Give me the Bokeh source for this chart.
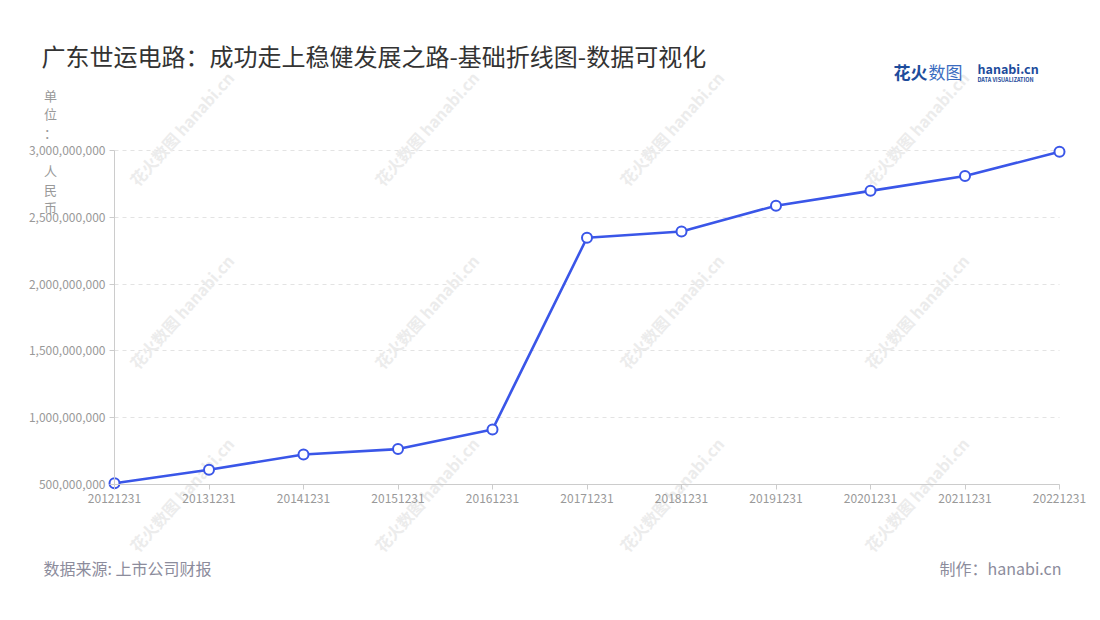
from bokeh.plotting import figure
from bokeh.models import Range1d, FixedTicker, NumeralTickFormatter, Label
from bokeh.embed import file_html
from bokeh.resources import INLINE

# ---- data ----
dates = ["20121231", "20131231", "20141231", "20151231", "20161231", "20171231",
         "20181231", "20191231", "20201231", "20211231", "20221231"]
revenue = [510e6, 610e6, 725e6, 765e6, 912e6, 2347e6,
           2394e6, 2587e6, 2698e6, 2809e6, 2990e6]
y_ticks = [500e6, 1000e6, 1500e6, 2000e6, 2500e6, 3000e6]

title_text = "广东世运电路：成功走上稳健发展之路-基础折线图-数据可视化"
unit_chars = ["单", "位", "：", "人", "民", "币"]
source_text = "数据来源: 上市公司财报"
maker_text = "制作：hanabi.cn"
watermark_text = "花火数图 hanabi.cn"

FONT = "Noto Sans CJK SC"
LINE_COLOR = "#3a56e8"

# ---- layout (pixels in the canvas) ----
W, H = 1092, 612
PL, PR, PT, PB = 114, 1059, 150, 484   # plot area edges
n = len(dates)
y0, y1 = y_ticks[0], y_ticks[-1]
xpx = (n - 1) / (PR - PL)
ypx = (y1 - y0) / (PB - PT)
x_range = Range1d(0 - PL * xpx, (n - 1) + (W - PR) * xpx)
y_range = Range1d(y0 - (H - PB) * ypx, y1 + PT * ypx)

p = figure(width=W, height=H, output_backend="svg", toolbar_location=None,
           x_range=x_range, y_range=y_range, min_border=0)
p.min_border_left = p.min_border_right = p.min_border_top = p.min_border_bottom = 0
p.outline_line_color = None
p.background_fill_color = "white"
p.border_fill_color = "white"


def lab(text, xi, yi, size, color, align="left", style="normal", angle=0, level="annotation"):
    p.add_layout(Label(x=xi, y=H - yi, x_units="screen", y_units="screen",
                       text=text, text_font=FONT, text_font_size=size,
                       text_color=color, text_align=align, text_baseline="middle",
                       text_font_style=style, angle=angle, level=level))


# faint watermarks (behind everything)
for wx in [181, 426, 671, 916]:
    for wy in [128, 311, 494]:
        lab(watermark_text, wx, wy, "16px", "#ececec", align="center",
            style="bold", angle=0.84, level="underlay")

x = list(range(n))
p.line(x, revenue, line_color=LINE_COLOR, line_width=2.6)
p.scatter(x, revenue, size=10, fill_color="white", line_color=LINE_COLOR, line_width=2)

# axes placed inside the frame
xa = p.xaxis[0]
xa.fixed_location = y0
xa.bounds = (0, n - 1)
xa.ticker = FixedTicker(ticks=x)
xa.major_label_overrides = {i: d for i, d in enumerate(dates)}
xa.axis_line_color = "#cccccc"
xa.major_tick_line_color = "#cccccc"
xa.major_tick_in = 0
xa.major_tick_out = 5
xa.minor_tick_line_color = None
xa.major_label_text_color = "#999999"
xa.major_label_text_font = FONT
xa.major_label_text_font_size = "12px"
xa.major_label_standoff = 4

ya = p.yaxis[0]
ya.fixed_location = 0
ya.bounds = (y0, y1)
ya.ticker = FixedTicker(ticks=y_ticks)
ya.formatter = NumeralTickFormatter(format="0,0")
ya.axis_line_color = "#cccccc"
ya.major_tick_line_color = "#cccccc"
ya.major_tick_in = 0
ya.major_tick_out = 5
ya.minor_tick_line_color = None
ya.major_label_text_color = "#999999"
ya.major_label_text_font = FONT
ya.major_label_text_font_size = "12px"
ya.major_label_standoff = 4

p.xgrid.grid_line_color = None
if "cross_bounds" in p.ygrid.properties():
    p.ygrid.cross_bounds = (0, n - 1)
    p.ygrid.grid_line_color = "#e3e3e3"
    p.ygrid.grid_line_dash = "4 4"
    p.ygrid.grid_line_width = 1
else:
    p.ygrid.grid_line_color = None
    p.segment(x0=[0] * len(y_ticks), x1=[n - 1] * len(y_ticks), y0=y_ticks, y1=y_ticks,
              line_color="#e3e3e3", line_dash="4 4", line_width=1, level="underlay")

lab(title_text, 41, 55, "24px", "#333333")
# unit label, stacked vertically
unit_y = [95, 113, 132, 170, 189, 207]
for ch, yy in zip(unit_chars, unit_y):
    lab(ch, 50, yy, "13px", "#999999", align="center")

lab(source_text, 43, 567, "16px", "#8c8c9c")
lab(maker_text, 1061, 567, "16px", "#8c8c9c", align="right")

# logo
lab("花火", 893, 71, "17px", "#1d4c9c", style="bold")
lab("数图", 928, 71, "17px", "#3b6cc0")
lab("hanabi.cn", 977, 68, "12.5px", "#1d4c9c", style="bold")
lab("DATA VISUALIZATION", 977, 79, "5.5px", "#1d4c9c", style="bold")

open("out.html", "w").write(file_html(p, INLINE))
